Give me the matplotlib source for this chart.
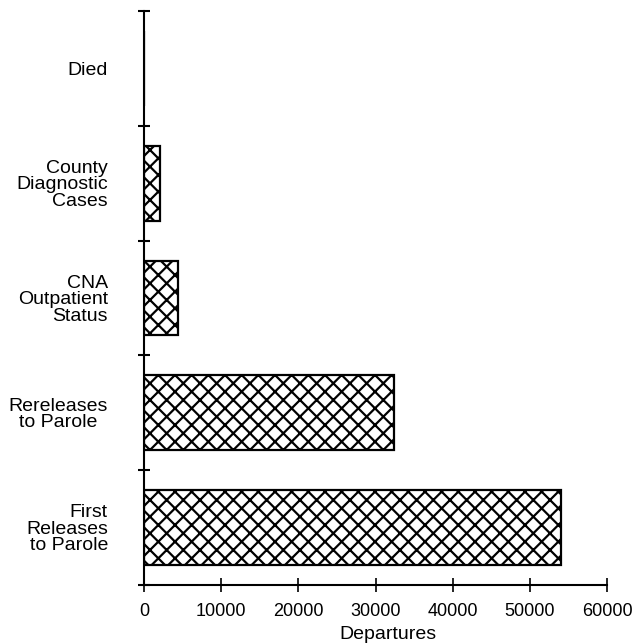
import matplotlib
matplotlib.use("Agg")
import matplotlib.pyplot as plt
import numpy as np

plt.rcParams['font.family'] = ['Liberation Sans', 'DejaVu Sans']
plt.rcParams['hatch.linewidth'] = 1.6

categorias = ["Died", "County\nDiagnostic\nCases", "CNA\nOutpatient\nStatus",
              "Rereleases\nto Parole", "First\nReleases\nto Parole"]
salidas = [0, 2100, 4400, 32400, 54100]
ticks_x = [0, 10000, 20000, 30000, 40000, 50000, 60000]

fig = plt.figure(figsize=(6.35, 6.44), dpi=100)
ax = fig.add_axes([144 / 635, 59 / 644, 463 / 635, 574 / 644])

pos = np.arange(len(categorias))
ax.barh(pos, salidas, height=0.65, color="white", edgecolor="black",
        linewidth=1.6, hatch="xx")

ax.set_ylim(len(categorias) - 0.5, -0.5)
ax.set_xlim(0, 60000)

ax.set_yticks(pos)
ax.set_yticklabels(categorias, fontsize=14, linespacing=0.95, ha="right",
                   multialignment="right")
# "Rereleases to Parole" esta centrado en el original
ax.get_yticklabels()[3].set_multialignment("center")
ax.tick_params(axis="y", which="major", length=0, pad=26)
ax.set_yticks(np.arange(-0.5, len(categorias) + 0.5, 1), minor=True)
ax.tick_params(axis="y", which="minor", direction="inout", length=9, width=1.5)

ax.set_xticks(ticks_x)
ax.set_xticklabels([str(t) for t in ticks_x], fontsize=13)
ax.tick_params(axis="x", direction="inout", length=10, width=1.2, pad=8)
ax.set_xlabel("Departures", fontsize=14)
ax.xaxis.set_label_coords((388 - 144) / 463, -0.072)

for s in ["top", "right"]:
    ax.spines[s].set_visible(False)
for s in ["left", "bottom"]:
    ax.spines[s].set_linewidth(1.5)

fig.savefig("out.png", dpi=100)
